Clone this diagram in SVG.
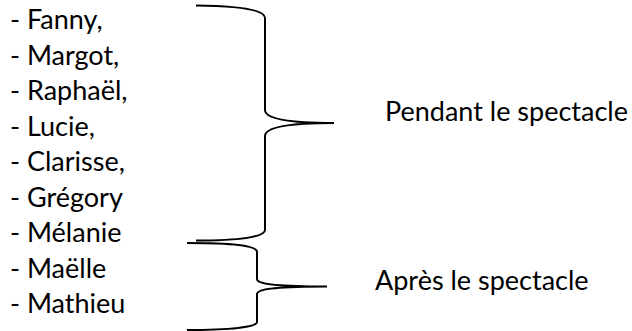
<svg xmlns="http://www.w3.org/2000/svg" width="632" height="331" viewBox="0 0 632 331">
<style>
text { font-family: Lato, "Liberation Sans", sans-serif; font-size: 27px; fill: #000; }
.brace { fill: none; stroke: #000; stroke-width: 2; }
</style>
<rect width="632" height="331" fill="#fff"/>
<g id="names">
<text x="10" y="29">- Fanny,</text>
<text x="10" y="64.5">- Margot,</text>
<text x="10" y="100">- Raphaël,</text>
<text x="10" y="135.5">- Lucie,</text>
<text x="10" y="171">- Clarisse,</text>
<text x="10" y="206.5">- Grégory</text>
<text x="10" y="242">- Mélanie</text>
<text x="10" y="277.5">- Maëlle</text>
<text x="10" y="313">- Mathieu</text>
</g>
<g id="connectors">
<path class="brace" d="M196,5.5 C240,6 265,10 265,18 L265,110 C265,118 285,123 334,123 C285,123 265,128 265,136 L265,230 C265,237 240,240.5 196,240.5"/>
<path class="brace" d="M187,243 C230,243 257,245 257,252 L257,279 C257,284 275,286.5 327,286.5 C275,286.5 257,289 257,294 L257,322 C257,327 230,330 187,330"/>
</g>
<g id="label-pendant"><text x="385" y="121">Pendant le spectacle</text></g>
<g id="label-apres"><text x="375" y="290">Après le spectacle</text></g>
</svg>
